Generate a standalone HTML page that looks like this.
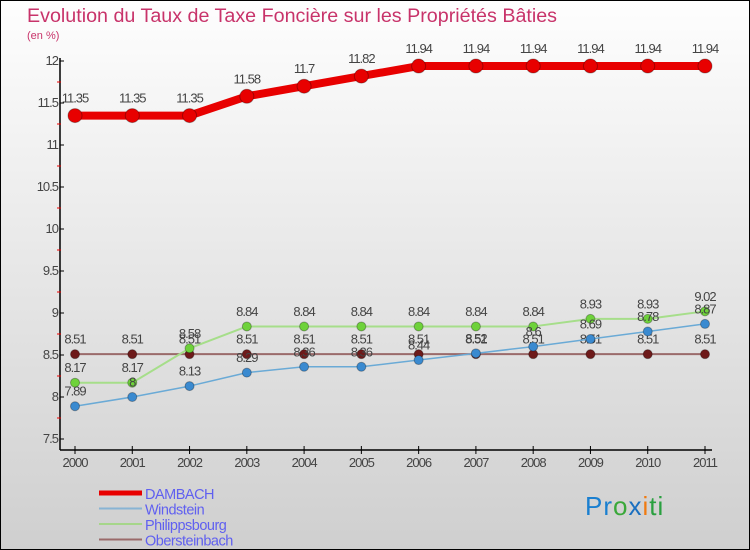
<!DOCTYPE html>
<html><head><meta charset="utf-8"><style>
body{margin:0;width:750px;height:550px;overflow:hidden;font-family:"Liberation Sans",sans-serif}
svg{display:block}
</style></head><body>
<svg id="c" width="750" height="550">
<defs><linearGradient id="bg" x1="0" y1="0" x2="0" y2="1"><stop offset="0" stop-color="#fefefe"/><stop offset="1" stop-color="#cfcfcf"/></linearGradient></defs>
<rect x="0.5" y="0.5" width="749" height="549" fill="url(#bg)" stroke="#000"/>
<text x="27" y="22" font-size="19.7" fill="#c8336a">Evolution du Taux de Taxe Foncière sur les Propriétés Bâties</text>
<text x="27" y="39" font-size="11" fill="#c8336a">(en %)</text>
<g id="axes"></g><g id="series"></g>
<g id="legend"></g>
<text x="585" y="515" font-size="26" letter-spacing="1"><tspan fill="#1a7fd0">Pr</tspan><tspan fill="#3aa83a">o</tspan><tspan fill="#1a6fc0">x</tspan><tspan fill="#f07a10">i</tspan><tspan fill="#2aa040">ti</tspan></text>
</svg>
<script>
const years=[2000,2001,2002,2003,2004,2005,2006,2007,2008,2009,2010,2011];
const yTicks=[7.5,8,8.5,9,9.5,10,10.5,11,11.5,12];
const dambach=[11.35,11.35,11.35,11.58,11.7,11.82,11.94,11.94,11.94,11.94,11.94,11.94];
const windstein=[7.89,8,8.13,8.29,8.36,8.36,8.44,8.52,8.6,8.69,8.78,8.87];
const philippsbourg=[8.17,8.17,8.58,8.84,8.84,8.84,8.84,8.84,8.84,8.93,8.93,9.02];
const obersteinbach=[8.51,8.51,8.51,8.51,8.51,8.51,8.51,8.51,8.51,8.51,8.51,8.51];
const NS="http://www.w3.org/2000/svg";
const X=i=>75+i*(630/11);
const Y=v=>439-(v-7.5)*(378/4.5);
function mk(t,a,p){const e=document.createElementNS(NS,t);for(const k in a)e.setAttribute(k,a[k]);p.appendChild(e);return e;}
const ax=document.getElementById('axes');
let l=mk('line',{x1:60,y1:58,x2:60,y2:450,stroke:'#000','stroke-width':1.5},ax);


l=mk('line',{x1:60,y1:450,x2:712,y2:450,stroke:'#000','stroke-width':1.5},ax);


yTicks.forEach((v,i)=>{
 mk('line',{x1:60,y1:Y(v),x2:64,y2:Y(v),stroke:'#000'},ax);
 if(i<yTicks.length-1) mk('line',{x1:57,y1:Y(v+0.25),x2:61,y2:Y(v+0.25),stroke:'#e00'},ax);
 const t=mk('text',{x:58,y:Y(v)+4,'text-anchor':'end','font-size':13,fill:'#444','letter-spacing':-1},ax);
 t.textContent=v;
 
 
});
years.forEach((yr,i)=>{
 mk('line',{x1:X(i),y1:446,x2:X(i),y2:454,stroke:'#000'},ax);
 const t=mk('text',{x:X(i),y:467,'text-anchor':'middle','font-size':13,fill:'#444','letter-spacing':-1},ax);
 t.textContent=yr;
 
 
});
const sg=document.getElementById('series');
function series(data,color,lw,r,name,labelColor){
 const g=mk('g',{},sg);
 
 
 mk('polyline',{points:data.map((v,i)=>X(i)+','+Y(v)).join(' '),fill:'none',stroke:color,'stroke-width':lw,'stroke-linejoin':'round'},g);
 data.forEach((v,i)=>{
  const c=mk('circle',{cx:X(i),cy:Y(v),r:r,fill:labelColor,stroke:'rgba(0,0,0,0.3)'},g);
  
  
  const t=mk('text',{x:X(i),y:Y(v)-(r+6),'text-anchor':'middle','font-size':13,fill:'#444','letter-spacing':-1},g);
  t.textContent=v;
  
  
 });
}
series(obersteinbach,'#9a6a6a',2,4.5,'obersteinbach','#6e1a1a');
series(philippsbourg,'#a6de8a',2,4.5,'philippsbourg','#6ed23a');
series(windstein,'#6aaad6',1.5,4.5,'windstein','#3a8ad0');
series(dambach,'#e80000',8,7,'dambach','#e80000');
const lg=document.getElementById('legend');
[['DAMBACH','#e80000',5],['Windstein','#88b4d4',2],['Philippsbourg','#a6d68a',2],['Obersteinbach','#9a6a6a',2]].forEach((d,i)=>{
 const y=493+i*15.5;
 const g=mk('g',{},lg);
 
 
 mk('line',{x1:99,y1:y,x2:142,y2:y,stroke:d[1],'stroke-width':d[2]},g);
 const t=mk('text',{x:145,y:y+6,'font-size':14.5,fill:'#6060f0','letter-spacing':-0.5},g);
 t.textContent=d[0];
});
</script>
</body></html>
